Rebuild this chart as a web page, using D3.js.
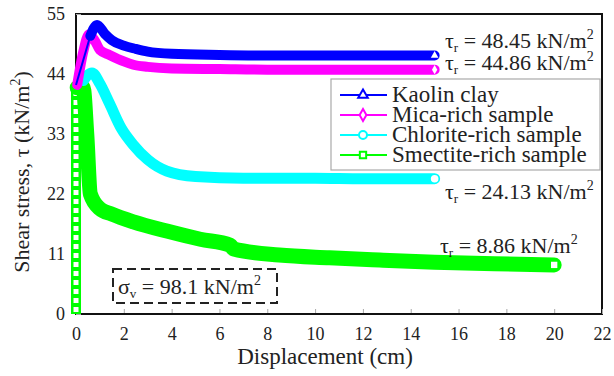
<!DOCTYPE html>
<html>
<head>
<meta charset="utf-8">
<script src="https://cdn.jsdelivr.net/npm/d3@7"></script>
<style>
  body { margin: 0; background: #fff; }
  text { font-family: "Liberation Serif", "Times New Roman", serif; }
</style>
</head>
<body>
<svg id="chart" width="614" height="376"></svg>
<script>
// axis ticks
const xTicks = [0, 2, 4, 6, 8, 10, 12, 14, 16, 18, 20, 22]
const yTicks = [0, 11, 22, 33, 44, 55]

// legend / series names
const seriesNames = [ 'Kaolin clay', 'Mica-rich sample', 'Chlorite-rich sample', 'Smectite-rich sample' ]
const residualLabels = [ '48.45', '44.86', '24.13', '8.86' ]

// thin initial loading branch (near zero displacement)
const riseX = [ 0, 0 ]
const riseTau = [ 0, 42 ]
const kaolinRiseX = [ 0, 0.6 ]
const kaolinRiseTau = [ 42, 51 ]

// thick post-peak branches
const kaolinX   = [ 0.6, 0.88, 1.2, 1.5, 2.0, 2.5, 3.0, 4.0, 6.0, 8.0, 10.0, 12.0, 15.0 ]
const kaolinTau = [ 51.0, 53.0, 51.4, 50.2, 49.2, 48.6, 48.1, 47.7, 47.5, 47.4, 47.4, 47.4, 47.4 ]

const micaX   = [ 0.05, 0.3, 0.55, 0.8, 1.0, 1.4, 2.0, 2.4, 3.0, 4.0, 6.0, 8.0, 10.0, 12.0, 15.0 ]
const micaTau = [ 42.0, 48.0, 51.3, 50.0, 48.4, 47.5, 46.3, 45.7, 45.3, 45.0, 44.9, 44.8, 44.8, 44.8, 44.8 ]

const chloriteX   = [ 0.3, 0.67, 1.0, 1.4, 1.9, 2.4, 3.0, 3.8, 5.0, 7.0, 10.0, 12.0, 15.0 ]
const chloriteTau = [ 42.8, 44.2, 42.2, 38.6, 34.0, 31.0, 28.3, 26.2, 25.2, 24.9, 24.9, 24.8, 24.8 ]

const smectiteX   = [ 0.05, 0.3, 0.45, 0.6, 1.0, 1.5, 2.4, 3.8, 5.2, 6.45, 6.6, 8.5, 10.6, 12.7, 15.0, 17.5, 20.0 ]
const smectiteTau = [ 41.5, 41.5, 33.0, 22.0, 19.3, 18.3, 16.9, 15.2, 13.7, 12.6, 11.9, 10.8, 10.3, 9.9, 9.5, 9.2, 9.0 ]

const colors = [ '#0000ff', '#ff00ff', '#00ffff', '#00ff00' ]
const symbols = [ d3.symbolTriangle, d3.symbolDiamond, d3.symbolCircle, d3.symbolSquare ]

const svg = d3.select('#chart').attr('font-family', 'Liberation Serif')
const margin = { left: 76, right: 602, top: 14, bottom: 314 }

const x = d3.scaleLinear().domain([ 0, 22 ]).range([ margin.left, margin.right ])
const y = d3.scaleLinear().domain([ 0, 55 ]).range([ margin.bottom, margin.top ])

// plot frame (series are drawn over it)
svg.append('rect')
    .attr('x', margin.left).attr('y', margin.top)
    .attr('width', margin.right - margin.left).attr('height', margin.bottom - margin.top)
    .attr('fill', 'none').attr('stroke', '#111').attr('stroke-width', 2)

// axes, ticks inside
const xAxis = svg.append('g')
    .attr('transform', `translate(0, ${margin.bottom})`)
    .call( d3.axisBottom(x).tickValues(xTicks).tickSizeInner(-5).tickSizeOuter(0).tickPadding(13) )
const yAxis = svg.append('g')
    .attr('transform', `translate(${margin.left}, 0)`)
    .call( d3.axisLeft(y).tickValues(yTicks).tickSizeInner(-5).tickSizeOuter(0).tickPadding(11) )

;[ xAxis, yAxis ].forEach( g => {
    g.attr('font-family', 'Liberation Serif')
    g.select('.domain').remove()
    g.selectAll('.tick line').attr('stroke', '#aaa')
    g.selectAll('.tick text').attr('font-size', 18).attr('fill', '#222')
} )

const seriesLine = d3.line().x( d => x(d[0]) ).y( d => y(d[1]) )
const zipped = ( xs, ys ) => xs.map( ( v, i ) => [ v, ys[i] ] )

const band = ( xs, ys, color, width ) =>
    svg.append('path')
        .attr('d', seriesLine.curve(d3.curveMonotoneX)( zipped( xs, ys ) ))
        .attr('fill', 'none')
        .attr('stroke', color)
        .attr('stroke-width', width)
        .attr('stroke-linejoin', 'round')
        .attr('stroke-linecap', 'round')

const endMarker = ( xs, ys, i, size ) =>
    svg.append('path')
        .attr('transform', `translate(${x(xs[xs.length - 1])}, ${y(ys[ys.length - 1])})`)
        .attr('d', d3.symbol().type(symbols[i]).size(size)())
        .attr('fill', '#fff')
        .attr('stroke', 'none')

// thin dotted loading branches behind the bands
;[ 0, 1, 2 ].forEach( i => {
    svg.append('path')
        .attr('d', seriesLine.curve(d3.curveLinear)( zipped( riseX, riseTau ) ))
        .attr('fill', 'none')
        .attr('stroke', colors[i])
        .attr('stroke-width', 2)
        .attr('stroke-dasharray', '2,3')
        .attr('transform', 'translate(-4,0)')
} )

// smectite loading branch: stack of open squares
svg.append('path')
    .attr('d', seriesLine.curve(d3.curveLinear)( zipped( riseX, riseTau ) ))
    .attr('fill', 'none').attr('stroke', colors[3]).attr('stroke-width', 10)
svg.append('path')
    .attr('d', seriesLine.curve(d3.curveLinear)( zipped( riseX, riseTau ) ))
    .attr('fill', 'none').attr('stroke', '#fff').attr('stroke-width', 5)
    .attr('stroke-dasharray', '5,4')
    .attr('transform', 'translate(0,-2)')

band( smectiteX, smectiteTau, colors[3], 15 )
endMarker( smectiteX, smectiteTau, 3, 40 )
band( chloriteX, chloriteTau, colors[2], 11 )
endMarker( chloriteX, chloriteTau, 2, 45 )
band( micaX, micaTau, colors[1], 10 )
endMarker( micaX, micaTau, 1, 25 )

svg.append('path')
    .attr('d', seriesLine.curve(d3.curveLinear)( zipped( kaolinRiseX, kaolinRiseTau ) ))
    .attr('fill', 'none').attr('stroke', colors[0]).attr('stroke-width', 2)
band( kaolinX, kaolinTau, colors[0], 10 )
endMarker( kaolinX, kaolinTau, 0, 25 )

// bottom axis line on top of the bands
svg.append('line')
    .attr('x1', margin.left + 6).attr('x2', margin.right)
    .attr('y1', margin.bottom).attr('y2', margin.bottom)
    .attr('stroke', '#111').attr('stroke-width', 2)

// residual strength labels
const labelPos = [ [ 445, 48 ], [ 445, 70 ], [ 445, 199 ], [ 440, 253 ] ]
residualLabels.forEach( ( v, i ) => {
    const t = svg.append('text')
        .attr('x', labelPos[i][0]).attr('y', labelPos[i][1])
        .attr('font-size', 22).attr('fill', '#222')
    t.append('tspan').text('τ')
    t.append('tspan').attr('font-size', 13).attr('dy', 4).text('r')
    t.append('tspan').attr('dy', -4).text(` = ${v} kN/m`)
    t.append('tspan').attr('font-size', 14).attr('dy', -9).text('2')
} )

// legend
const legend = svg.append('g')
legend.append('rect')
    .attr('x', 331).attr('y', 79).attr('width', 269).attr('height', 91)
    .attr('fill', '#fff').attr('stroke', '#aaa').attr('stroke-width', 1.2)

seriesNames.forEach( ( name, i ) => {
    const ly = 95 + i * 20
    legend.append('line')
        .attr('x1', 340).attr('x2', 387).attr('y1', ly).attr('y2', ly)
        .attr('stroke', colors[i]).attr('stroke-width', 2)
    legend.append('path')
        .attr('transform', `translate(363, ${ly})`)
        .attr('d', d3.symbol().type(symbols[i]).size(i === 2 ? 50 : 40)())
        .attr('fill', '#fff').attr('stroke', colors[i]).attr('stroke-width', 2)
    legend.append('text')
        .attr('x', 392).attr('y', ly + 7)
        .attr('font-size', 23).attr('fill', '#222')
        .text(name)
} )

// normal stress box
svg.append('rect')
    .attr('x', 113).attr('y', 269).attr('width', 164).attr('height', 34)
    .attr('fill', 'none').attr('stroke', '#222').attr('stroke-width', 2)
    .attr('stroke-dasharray', '9,5')
const sig = svg.append('text').attr('x', 118).attr('y', 294).attr('font-size', 22).attr('fill', '#222')
sig.append('tspan').text('σ')
sig.append('tspan').attr('font-size', 13).attr('dy', 4).text('v')
sig.append('tspan').attr('dy', -4).text(' = 98.1 kN/m')
sig.append('tspan').attr('font-size', 14).attr('dy', -9).text('2')

// axis titles
svg.append('text')
    .attr('x', 325).attr('y', 364).attr('text-anchor', 'middle')
    .attr('font-size', 23).attr('fill', '#222')
    .text('Displacement (cm)')

const yt = svg.append('text')
    .attr('transform', 'translate(29, 172) rotate(-90)')
    .attr('text-anchor', 'middle')
    .attr('font-size', 22).attr('fill', '#222')
yt.append('tspan').text('Shear stress, τ (kN/m')
yt.append('tspan').attr('font-size', 14).attr('dy', -9).text('2')
yt.append('tspan').attr('dy', 9).text(')')
</script>
</body>
</html>
